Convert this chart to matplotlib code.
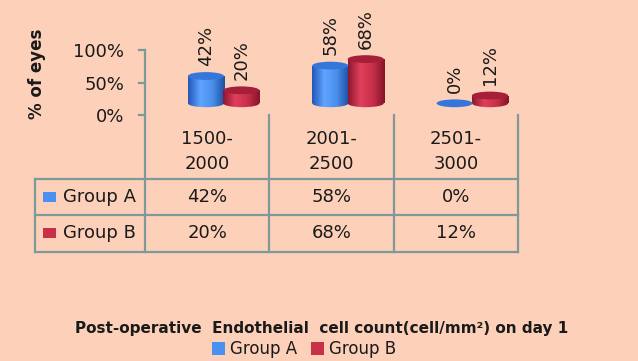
#!/usr/bin/env python3
"""Cylinder bar chart with data table: endothelial cell count on day 1."""

import matplotlib

matplotlib.use("Agg")
import matplotlib.pyplot as plt
import numpy as np
from matplotlib.colors import LinearSegmentedColormap
from matplotlib.patches import Ellipse, Patch, Rectangle

categories = ["1500-\n2000", "2001-\n2500", "2501-\n3000"]
group_names = ["Group A", "Group B"]
group_a = [42, 58, 0]
group_b = [20, 68, 12]
y_ticks = [0, 50, 100]
y_tick_labels = ["0%", "50%", "100%"]

W, H = 638, 361
BG = "#FDD0B9"
GRID = "#7E9999"
TXT = "#1A1A1A"
BLUE_BODY = ["#2457B8", "#5FA4FF", "#4A8FEA", "#1F4FA6"]
RED_BODY = ["#8E1730", "#E0405C", "#C8304A", "#861429"]
BLUE_TOP = "#3576DA"
RED_TOP = "#A61E38"
BLUE_KEY = "#4A90F0"
RED_KEY = "#C8304A"

# 3D-Sockel: Zylinder stehen etwas über der 0%-Linie
BASE = 18.0
BAR_W = 0.29
CAP_H = 12.0

plt.rcParams["font.family"] = ["DejaVu Sans"]


def fx(px):
    return px / W


def fy(py):
    return 1 - py / H


def dy(py):
    # Pixelzeile -> Datenwert der Achse (0% bei 115 px, 100% bei 50 px)
    return (115 - py) / 65 * 100


def dx(px):
    return (px - 145) / 373 * 3


def cylinder(ax, xc, value, colors, top_color):
    cmap = LinearSegmentedColormap.from_list("cyl", colors)
    grad = np.linspace(0, 1, 64).reshape(1, -1)
    left = xc - BAR_W / 2
    if value > 0:
        bottom = Ellipse((xc, BASE), BAR_W, CAP_H, transform=ax.transData)
        body = Rectangle((left, BASE), BAR_W, value, transform=ax.transData)
        for clip in (bottom, body):
            im = ax.imshow(
                grad,
                cmap=cmap,
                aspect="auto",
                extent=(left, left + BAR_W, BASE - CAP_H, BASE + value),
                zorder=2,
            )
            im.set_clip_path(clip)
    ax.add_patch(
        Ellipse((xc, BASE + value), BAR_W, CAP_H, facecolor=top_color, edgecolor="none", zorder=3)
    )


fig = plt.figure(figsize=(W / 100, H / 100), dpi=100, facecolor=BG)
ax = fig.add_axes([fx(145), fy(115), fx(373), 65 / H])
ax.set_facecolor("none")
ax.set_xlim(0, 3)
ax.set_ylim(0, 100)
for spine in ax.spines.values():
    spine.set_visible(False)
ax.set_xticks([])
ax.set_yticks(y_ticks)
ax.set_yticklabels(y_tick_labels, fontsize=13, color=TXT)
ax.tick_params(axis="y", length=0, pad=15)

positions = np.arange(len(categories))
for i in positions:
    cylinder(ax, i + 0.49, group_a[i], BLUE_BODY, BLUE_TOP)
    cylinder(ax, i + 0.775, group_b[i], RED_BODY, RED_TOP)
    for xc, val in ((i + 0.49, group_a[i]), (i + 0.775, group_b[i])):
        ax.text(
            xc,
            BASE + val + CAP_H / 2 + 10,
            f"{val}%",
            rotation=90,
            ha="center",
            va="bottom",
            fontsize=13,
            color=TXT,
            clip_on=False,
        )
ax.set_xlim(0, 3)
ax.set_ylim(0, 100)

# Achse, Ticks und Tabellenraster
line_kw = dict(color=GRID, linewidth=1.6, clip_on=False, zorder=1)
ax.plot([0, 0], [100, dy(252)], **line_kw)
for t in y_ticks:
    ax.plot([dx(139), 0], [t, t], **line_kw)
for i in positions:
    ax.plot([i + 1, i + 1], [0, dy(252)], **line_kw)
for py in (179, 215, 252):
    ax.plot([dx(35), 3], [dy(py), dy(py)], **line_kw)
ax.plot([dx(35), dx(35)], [dy(179), dy(252)], **line_kw)

# Kategorien und Tabellenwerte
for i, cat in enumerate(categories):
    ax.text(i + 0.5, dy(151), cat, ha="center", va="center", fontsize=13,
            color=TXT, linespacing=1.5, clip_on=False)
for row, (name, vals, key) in enumerate(
    ((group_names[0], group_a, BLUE_KEY), (group_names[1], group_b, RED_KEY))
):
    yc = dy(197 + row * 36)
    for i, v in enumerate(vals):
        ax.text(i + 0.5, yc, f"{v}%", ha="center", va="center", fontsize=13,
                color=TXT, clip_on=False)
    ax.add_patch(Rectangle((dx(43), yc - 7), dx(56) - dx(43), 15, facecolor=key,
                           edgecolor="none", clip_on=False))
    ax.text(dx(63), yc, name, ha="left", va="center", fontsize=13, color=TXT, clip_on=False)

fig.text(fx(37), fy(74), "% of eyes", rotation=90, ha="center", va="center",
         fontsize=12, fontweight="bold", color=TXT)
fig.text(fx(322), fy(329), "Post-operative  Endothelial  cell count(cell/mm²) on day 1",
         ha="center", va="center", fontsize=11, fontweight="bold", color=TXT)

handles = [Patch(facecolor=BLUE_KEY, label=group_names[0]),
           Patch(facecolor=RED_KEY, label=group_names[1])]
fig.legend(handles=handles, loc="center", bbox_to_anchor=(fx(304), fy(349)), ncol=2,
           frameon=False, fontsize=12, handlelength=0.8, handleheight=0.8,
           handletextpad=0.3, columnspacing=0.8, borderpad=0, labelcolor=TXT)

fig.savefig("out.png", dpi=100, facecolor=BG)
